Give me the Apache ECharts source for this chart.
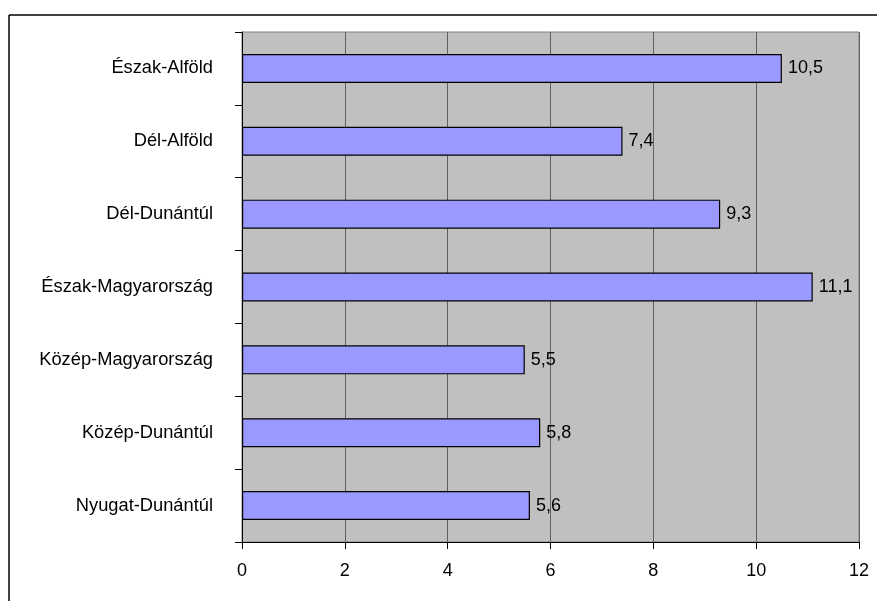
<!DOCTYPE html>
<html>
<head>
<meta charset="utf-8">
<script src="https://cdn.jsdelivr.net/npm/echarts@6/dist/echarts.min.js"></script>
<style>
html,body{margin:0;padding:0;background:#fff;}
#chart{width:877px;height:601px;}
</style>
</head>
<body>
<div id="chart"></div>
<script>
// Categories listed top to bottom as in the picture
var categories = ['Észak-Alföld','Dél-Alföld','Dél-Dunántúl','Észak-Magyarország','Közép-Magyarország','Közép-Dunántúl','Nyugat-Dunántúl'];
var values = [10.5, 7.4, 9.3, 11.1, 5.5, 5.8, 5.6];
var xTicks = [0, 2, 4, 6, 8, 10, 12];

var FONT = '"Liberation Sans", Arial, sans-serif';
var chart = echarts.init(document.getElementById('chart'), null, {renderer:'canvas'});
chart.setOption({
  animation: false,
  backgroundColor: '#ffffff',
  grid: {
    left: 242, right: 18, top: 32, bottom: 59,
    show: true, backgroundColor: '#C0C0C0', borderColor: '#808080', borderWidth: 1
  },
  xAxis: {
    type: 'value',
    min: xTicks[0], max: xTicks[xTicks.length-1], interval: 2,
    axisLine: {show: true, lineStyle: {color: '#000', width: 1}},
    axisTick: {show: true, length: 7, lineStyle: {color: '#000'}},
    splitLine: {show: true, lineStyle: {color: '#606060', width: 1}},
    axisLabel: {color: '#000', fontSize: 18, fontFamily: FONT, margin: 20}
  },
  yAxis: {
    type: 'category',
    data: categories,
    inverse: true,
    axisLine: {show: true, lineStyle: {color: '#000', width: 1}},
    axisTick: {show: true, length: 7, inside: false, lineStyle: {color: '#000'}},
    splitLine: {show: false},
    axisLabel: {color: '#000', fontSize: 18.3, fontFamily: FONT, margin: 29}
  },
  series: [{
    type: 'bar',
    data: values,
    barWidth: 29,
    itemStyle: {color: '#9999FF', borderColor: '#000', borderWidth: 1.2},
    label: {
      show: true, position: 'right', distance: 6,
      color: '#000', fontSize: 18, fontFamily: FONT,
      formatter: function(p){ return p.value.toFixed(1).replace('.', ','); }
    }
  }],
  graphic: [
    {type: 'line', shape: {x1: 9, y1: 15, x2: 877, y2: 15}, style: {stroke: '#000', lineWidth: 1.5}},
    {type: 'line', shape: {x1: 9, y1: 15, x2: 9, y2: 601}, style: {stroke: '#000', lineWidth: 1.5}}
  ]
});
</script>
</body>
</html>
